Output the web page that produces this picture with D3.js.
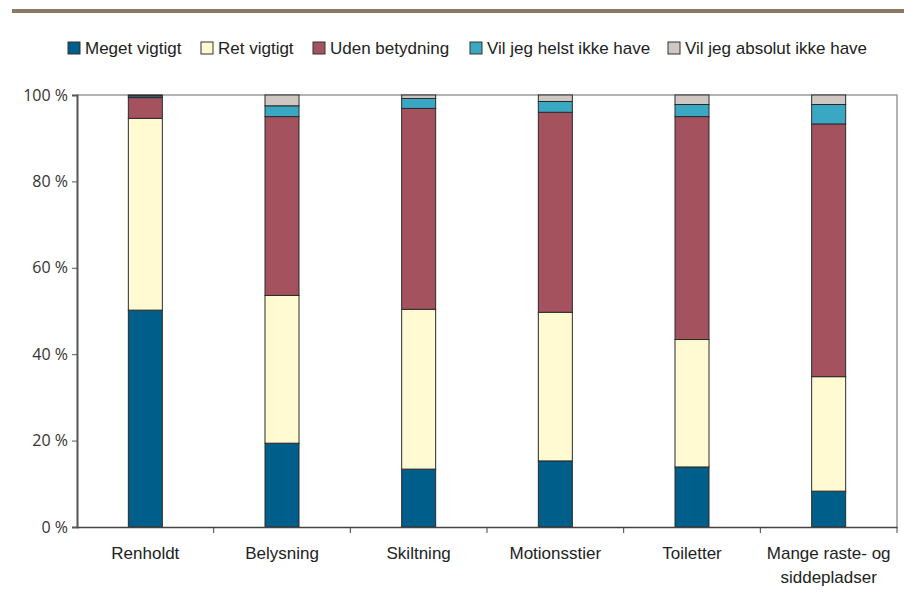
<!DOCTYPE html>
<html>
<head>
<meta charset="utf-8">
<script src="https://cdn.jsdelivr.net/npm/d3@7"></script>
<style>
  body { margin: 0; background: #fff; }
  svg { font-family: "Liberation Sans", Arial, sans-serif; }
</style>
</head>
<body>
<div id="chart"></div>
<script>
var categories = ["Renholdt", "Belysning", "Skiltning", "Motionsstier", "Toiletter", "Mange raste- og|siddepladser"];
var seriesNames = ["Meget vigtigt", "Ret vigtigt", "Uden betydning", "Vil jeg helst ikke have", "Vil jeg absolut ikke have"];
var megetVigtigt   = [50.2, 19.4, 13.4, 15.3, 13.9, 8.3];
var retVigtigt     = [44.4, 34.2, 37.0, 34.4, 29.5, 26.5];
var udenBetydning  = [4.8, 41.4, 46.5, 46.3, 51.6, 58.5];
var helstIkke      = [0.4, 2.5, 2.3, 2.5, 2.8, 4.5];
var absolutIkke    = [0.2, 2.5, 0.8, 1.5, 2.2, 2.2];
var colors = ["#005f8a", "#fffad2", "#a5525f", "#3aa8c2", "#cfc7c1"];
var yTicks = [0, 20, 40, 60, 80, 100];

var width = 904, height = 609;
var margin = {left: 77, right: 7, top: 95, bottom: 82};

var svg = d3.select("#chart").append("svg")
    .attr("width", width)
    .attr("height", height);

// top rule
svg.append("rect")
    .attr("x", 12).attr("y", 9)
    .attr("width", width - 12).attr("height", 4)
    .attr("fill", "#8c7963");

var rows = categories.map(function (c, i) {
    return {cat: c, s0: megetVigtigt[i], s1: retVigtigt[i], s2: udenBetydning[i], s3: helstIkke[i], s4: absolutIkke[i]};
});
var keys = ["s0", "s1", "s2", "s3", "s4"];
var stacked = d3.stack().keys(keys)(rows);

var x = d3.scaleBand()
    .domain(categories)
    .range([margin.left, width - margin.right]);

var y = d3.scaleLinear()
    .domain([0, 100])
    .range([height - margin.bottom, margin.top]);

// frame on top and right
svg.append("path")
    .attr("d", "M" + margin.left + "," + y(100) + "H" + (width - margin.right) + "V" + y(0))
    .attr("fill", "none")
    .attr("stroke", "#9a9a9a")
    .attr("stroke-width", 1.5);

var barW = 34;
svg.append("g").selectAll("g")
    .data(stacked)
    .enter().append("g")
    .attr("fill", function (d, i) { return colors[i]; })
    .selectAll("rect")
    .data(function (d) { return d; })
    .enter().append("rect")
    .attr("x", function (d) { return x(d.data.cat) + x.bandwidth() / 2 - barW / 2; })
    .attr("y", function (d) { return y(d[1]); })
    .attr("width", barW)
    .attr("height", function (d) { return y(d[0]) - y(d[1]); })
    .attr("stroke", "#2b2b2b")
    .attr("stroke-width", 1);

// y axis
var yAxis = svg.append("g")
    .attr("transform", "translate(" + margin.left + ",0)")
    .call(d3.axisLeft(y).tickValues(yTicks).tickSize(5).tickPadding(4)
        .tickFormat(function (d) { return d + " %"; }));
yAxis.select(".domain").attr("stroke", "#555").attr("stroke-width", 2);
yAxis.selectAll(".tick line").attr("stroke", "#555");
yAxis.selectAll("text").attr("font-size", 16).attr("fill", "#333")
    .attr("font-family", "'Open Sans', sans-serif");

// x axis
var xAxis = svg.append("g")
    .attr("transform", "translate(0," + y(0) + ")")
    .call(d3.axisBottom(x).tickSize(0).tickFormat(""));
xAxis.select(".domain").attr("stroke", "#444").attr("stroke-width", 1.5);
xAxis.selectAll(".tick").remove();

var bounds = categories.map(function (c) { return x(c); }).concat([x(categories[categories.length - 1]) + x.bandwidth()]);
xAxis.selectAll("line.sep")
    .data(bounds.slice(1))
    .enter().append("line")
    .attr("class", "sep")
    .attr("x1", function (d) { return d; }).attr("x2", function (d) { return d; })
    .attr("y1", 0).attr("y2", 6)
    .attr("stroke", "#444");

var labels = svg.append("g").selectAll("text")
    .data(categories)
    .enter().append("text")
    .attr("x", function (d) { return x(d) + x.bandwidth() / 2; })
    .attr("y", 559)
    .attr("text-anchor", "middle")
    .attr("font-size", 17)
    .attr("fill", "#222");
labels.each(function (d) {
    var parts = d.split("|");
    var t = d3.select(this);
    parts.forEach(function (p, i) {
        t.append("tspan")
            .attr("x", x(d) + x.bandwidth() / 2)
            .attr("dy", i === 0 ? 0 : 24)
            .text(p);
    });
});

// legend
var legendX = [68, 201, 313, 470, 668];
var legend = svg.append("g").selectAll("g")
    .data(seriesNames)
    .enter().append("g")
    .attr("transform", function (d, i) { return "translate(" + legendX[i] + ",42)"; });
legend.append("rect")
    .attr("width", 12).attr("height", 12)
    .attr("fill", function (d, i) { return colors[i]; })
    .attr("stroke", "#333").attr("stroke-width", 1);
legend.append("text")
    .attr("x", 17).attr("y", 12)
    .attr("font-size", 17)
    .attr("fill", "#222")
    .text(function (d) { return d; });
</script>
</body>
</html>
